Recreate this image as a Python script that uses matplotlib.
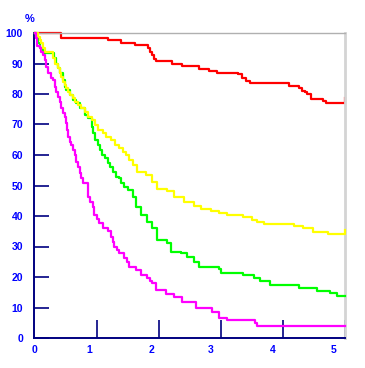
import matplotlib
matplotlib.use("Agg")
import matplotlib.pyplot as plt

# survival curves, step-post (time, percent)
red_t = [0, 0.42, 1.17, 1.39, 1.61, 1.82, 1.85, 1.88, 1.92, 1.95, 2.21, 2.37, 2.65, 2.80, 2.94,
         3.28, 3.33, 3.40, 3.47, 4.10, 4.26, 4.31, 4.36, 4.39, 4.45, 4.64, 4.70, 5.0, 5.0]
red_v = [100, 98.5, 97.7, 96.7, 96.0, 95.1, 93.7, 92.7, 91.5, 90.7, 90.0, 89.2, 88.2, 87.6, 87.0,
         86.4, 85.3, 84.4, 83.5, 82.7, 82.0, 81.0, 80.6, 79.9, 78.5, 77.7, 77.0, 77.0, 78.6]

yellow_t = [0, 0.05, 0.08, 0.10, 0.13, 0.16, 0.29, 0.32, 0.37, 0.40, 0.42, 0.45, 0.48, 0.50,
            0.53, 0.56, 0.61, 0.64, 0.69, 0.74, 0.80, 0.85, 0.91, 0.96, 1.01, 1.09, 1.15, 1.23,
            1.28, 1.36, 1.41, 1.47, 1.52, 1.58, 1.65, 1.78, 1.89, 1.97, 2.13, 2.24, 2.40, 2.56,
            2.67, 2.83, 2.96, 3.10, 3.36, 3.50, 3.58, 3.69, 4.17, 4.33, 4.49, 4.60, 4.73, 5.0, 5.0]
yellow_v = [100, 98.8, 97.7, 96.6, 95.0, 93.9, 91.7, 90.0, 88.4, 86.8, 85.7, 84.0, 83.0, 81.9,
            80.8, 79.7, 78.6, 77.5, 76.4, 75.3, 74.2, 72.6, 71.5, 69.8, 68.2, 67.1, 66.0, 64.9,
            63.3, 62.2, 61.1, 60.0, 58.4, 56.7, 54.5, 53.4, 51.2, 48.8, 48.3, 46.1, 44.7, 43.3,
            42.4, 41.7, 40.9, 40.2, 39.6, 38.7, 37.9, 37.4, 36.7, 36.0, 34.9, 34.6, 34.0, 34.0, 35.4]

green_t = [0, 0.02, 0.05, 0.08, 0.13, 0.30, 0.34, 0.37, 0.40, 0.45, 0.48, 0.50, 0.56, 0.61,
           0.66, 0.72, 0.80, 0.85, 0.91, 0.93, 0.96, 1.01, 1.04, 1.07, 1.12, 1.17, 1.20, 1.25,
           1.31, 1.36, 1.39, 1.44, 1.50, 1.57, 1.62, 1.70, 1.81, 1.89, 1.97, 2.13, 2.19, 2.35,
           2.45, 2.56, 2.64, 2.96, 3.00, 3.36, 3.53, 3.63, 3.79, 4.25, 4.54, 4.76, 4.87, 5.0]
green_v = [100, 98.8, 96.6, 95.0, 93.4, 91.7, 90.0, 88.4, 86.8, 84.6, 82.4, 81.3, 79.7, 78.0,
           76.9, 75.3, 73.1, 72.0, 69.3, 67.1, 64.9, 63.3, 61.6, 60.0, 58.9, 57.3, 56.2, 54.5,
           52.9, 52.4, 50.7, 49.6, 48.5, 46.3, 43.0, 40.3, 38.1, 36.0, 32.1, 31.0, 28.3, 27.8,
           26.5, 25.0, 23.2, 22.5, 21.4, 20.7, 19.6, 18.8, 17.3, 16.5, 15.4, 14.6, 13.9, 13.9]

magenta_t = [0, 0.01, 0.03, 0.08, 0.10, 0.13, 0.16, 0.18, 0.21, 0.26, 0.29, 0.32, 0.34, 0.37,
             0.40, 0.42, 0.45, 0.48, 0.50, 0.51, 0.53, 0.56, 0.58, 0.61, 0.64, 0.66, 0.69, 0.72,
             0.74, 0.77, 0.85, 0.88, 0.93, 0.95, 0.99, 1.03, 1.09, 1.17, 1.22, 1.25, 1.27,
             1.32, 1.36, 1.44, 1.48, 1.52, 1.62, 1.70, 1.81, 1.85, 1.89, 1.95, 2.11, 2.24, 2.37,
             2.59, 2.86, 2.96, 3.10, 3.55, 3.58, 5.0]
magenta_v = [100, 98.3, 95.7, 95.0, 93.9, 92.8, 91.1, 89.0, 86.8, 85.1, 84.6, 82.4, 80.8, 79.1,
             77.5, 75.3, 73.7, 72.6, 70.4, 68.2, 66.0, 64.4, 63.3, 61.6, 60.0, 57.8, 56.2, 54.0,
             52.4, 50.7, 46.3, 44.5, 43.0, 40.3, 39.0, 37.6, 36.0, 35.2, 33.2, 31.5, 29.9,
             28.8, 27.8, 26.1, 24.8, 23.4, 22.3, 20.7, 19.6, 18.8, 17.9, 15.7, 14.3, 13.5, 11.9,
             9.7, 8.5, 6.7, 6.0, 4.8, 3.9, 3.9]

x_ticks = [1, 2, 3, 4, 5]
x_labels = ["0", "1", "2", "3", "4", "5"]
x_label_pos = [-0.02, 0.87, 1.88, 2.83, 3.84, 4.82]
y_ticks = [0, 10, 20, 30, 40, 50, 60, 70, 80, 90, 100]

navy = "#000080"
blue = "#0000FF"

fig = plt.figure(figsize=(3.65, 3.68), dpi=100)
ax = fig.add_axes([34 / 365, 30 / 368, 311 / 365, 305 / 368])

lw = 1.6
ax.step(green_t, green_v, where="post", color="#00FF00", lw=lw, clip_on=False, zorder=3)
ax.step(yellow_t, yellow_v, where="post", color="#FFFF00", lw=lw, clip_on=False, zorder=4)
ax.step(magenta_t, magenta_v, where="post", color="#FF00FF", lw=lw, clip_on=False, zorder=5)
ax.step(red_t, red_v, where="post", color="#FF0000", lw=lw, clip_on=False, zorder=2)

ax.set_xlim(0, 5)
ax.set_ylim(0, 100)

for s in ["left", "bottom"]:
    ax.spines[s].set_color(navy)
    ax.spines[s].set_linewidth(1.4)
ax.spines["top"].set_color("#b0b0b0")
ax.spines["top"].set_linewidth(1.0)
ax.spines["right"].set_color("#d4d4d4")
ax.spines["right"].set_linewidth(2.0)

font = dict(family="Liberation Sans", weight="bold", size=7.5)

ax.set_yticks(y_ticks)
ax.set_yticklabels([str(v) for v in y_ticks], color=blue, fontdict=font)
ax.tick_params(axis="y", direction="in", length=11, width=1.2, color=navy, pad=8)

# ticks on the axis, labels drawn a bit to the left like the original
ax.set_xticks(x_ticks)
ax.set_xticklabels([])
ax.tick_params(axis="x", direction="in", length=13, width=1.2, color=navy)
ax.set_xticks(x_label_pos, minor=True)
ax.set_xticklabels(x_labels, minor=True, color=blue, fontdict=font)
ax.tick_params(axis="x", which="minor", length=0, pad=5)

fig.text(30 / 365, 1 - 19 / 368, "%", color=blue, ha="center", va="center",
         family="Liberation Sans", weight="bold", size=8)

fig.savefig("out.png", dpi=100)
